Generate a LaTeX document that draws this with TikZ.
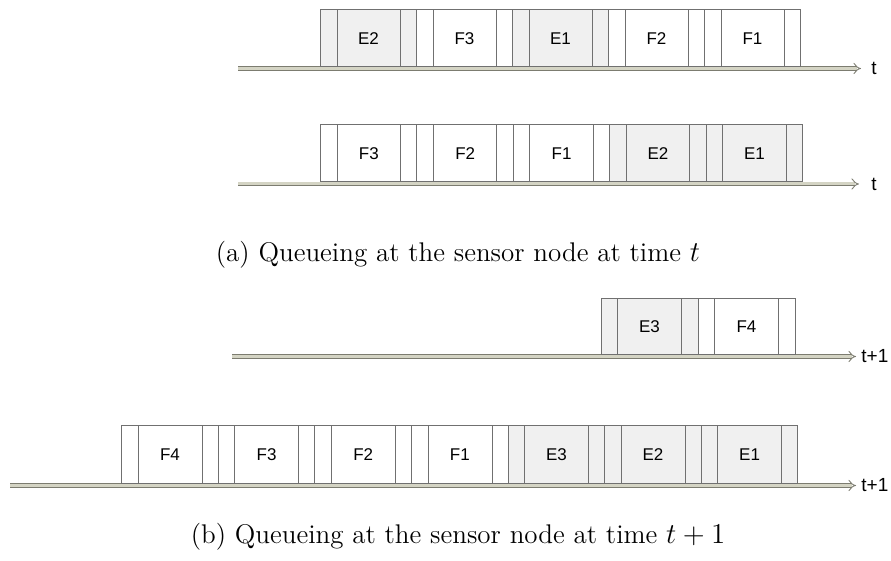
\documentclass[tikz,border=0pt]{standalone}
\usepackage{fontspec}
\usepackage{tikz}
\usetikzlibrary{arrows.meta}
\newfontfamily\labelfont{Liberation Sans}
\definecolor{slotgray}{HTML}{F0F0F0}
\definecolor{slotline}{HTML}{707070}
\definecolor{axisline}{HTML}{7C7C70}
\definecolor{axisfill}{HTML}{D4D4C4}

\tikzset{
  slot/.style={draw=slotline, line width=0.5pt},
  pktlabel/.style={font=\labelfont\fontsize{8.5}{10}\selectfont, inner sep=0pt},
  timelabel/.style={font=\labelfont\fontsize{9.5}{11}\selectfont, inner sep=0pt, anchor=west},
  timeaxis/.style={draw=axisline, line width=0.45pt, double=axisfill,
    double distance=1.5pt, -{Implies[length=3pt, width=5.5pt]}},
  caption/.style={font=\fontsize{13.5}{15}\selectfont, inner sep=0pt}
}

\begin{document}
\begin{tikzpicture}[x=0.5pt, y=-0.5pt]
    \useasboundingbox (0,0) rectangle (891,561);

    % (a) first queue at time t
    \coordinate (a1s) at (238,68.5);
    \coordinate (a1e) at (861,68.5);
    \draw[timeaxis] (a1s) -- (a1e);
    \node[timelabel] (a1t) at (871,68.5) {t};
    \foreach \lbl/\clr [count=\i from 0] in {E2/slotgray, F3/white, E1/slotgray, F2/white, F1/white} {
        \pgfmathsetmacro\xa{320+96*\i}
        \filldraw[slot, fill=\clr] (\xa,9.5) rectangle ++(96,57);
        \draw[slot] (\xa+17,9.5) -- ++(0,57) (\xa+80.5,9.5) -- ++(0,57);
        \node[pktlabel] (a1-\lbl) at (\xa+48.5,38.5) {\lbl};
    }

    % (a) second queue at time t
    \coordinate (a2s) at (238,184);
    \coordinate (a2e) at (859,184);
    \draw[timeaxis] (a2s) -- (a2e);
    \node[timelabel] (a2t) at (871,184) {t};
    \foreach \lbl/\clr [count=\i from 0] in {F3/white, F2/white, F1/white, E2/slotgray, E1/slotgray} {
        \pgfmathsetmacro\xa{320.5+96.4*\i}
        \filldraw[slot, fill=\clr] (\xa,124.5) rectangle ++(96.4,57.5);
        \draw[slot] (\xa+16.5,124.5) -- ++(0,57.5) (\xa+80,124.5) -- ++(0,57.5);
        \node[pktlabel] (a2-\lbl) at (\xa+48.3,153.5) {\lbl};
    }

    \node[caption] (capa) at (458,255) {(a) Queueing at the sensor node at time $t$};

    % (b) first queue at time t+1
    \coordinate (b1s) at (232,356.5);
    \coordinate (b1e) at (856,356.5);
    \draw[timeaxis] (b1s) -- (b1e);
    \node[timelabel] (b1t) at (861,356.5) {t+1};
    \foreach \lbl/\clr [count=\i from 0] in {E3/slotgray, F4/white} {
        \pgfmathsetmacro\xa{601+97*\i}
        \filldraw[slot, fill=\clr] (\xa,298.5) rectangle ++(97,56);
        \draw[slot] (\xa+16.5,298.5) -- ++(0,56) (\xa+80.5,298.5) -- ++(0,56);
        \node[pktlabel] (b1-\lbl) at (\xa+48.5,327) {\lbl};
    }

    % (b) second queue at time t+1
    \coordinate (b2s) at (10,485.5);
    \coordinate (b2e) at (856,485.5);
    \draw[timeaxis] (b2s) -- (b2e);
    \node[timelabel] (b2t) at (861,485.5) {t+1};
    \foreach \lbl/\clr [count=\i from 0] in {F4/white, F3/white, F2/white, F1/white, E3/slotgray, E2/slotgray, E1/slotgray} {
        \pgfmathsetmacro\xa{121.7+96.6*\i}
        \filldraw[slot, fill=\clr] (\xa,426) rectangle ++(96.6,57.5);
        \draw[slot] (\xa+16.6,426) -- ++(0,57.5) (\xa+80.5,426) -- ++(0,57.5);
        \node[pktlabel] (b2-\lbl) at (\xa+48.3,455) {\lbl};
    }

    \node[caption] (capb) at (458,537) {(b) Queueing at the sensor node at time $t+1$};
\end{tikzpicture}
\end{document}
